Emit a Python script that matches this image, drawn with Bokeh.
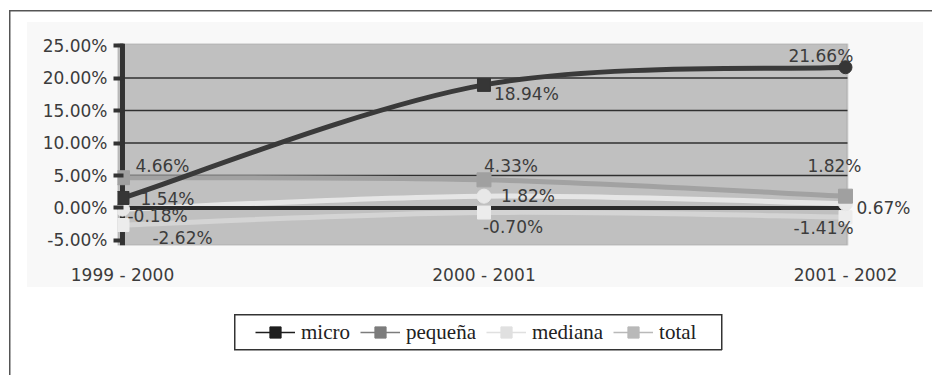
from bokeh.plotting import figure
from bokeh.layouts import column
from bokeh.models import (ColumnDataSource, FixedTicker, PrintfTickFormatter, Span,
                          BoxAnnotation, Legend, LegendItem, LabelSet)
from bokeh.core.properties import value
from bokeh.embed import file_html
from bokeh.resources import INLINE

# Growth rates by company size (percent)
periods = ["1999 - 2000", "2000 - 2001", "2001 - 2002"]
micro = [1.54, 18.94, 21.66]
pequena = [4.66, 4.33, 1.82]
mediana = [-0.18, 1.82, 0.67]
total = [-2.62, -0.70, -1.41]
series_names = ["micro", "pequeña", "mediana", "total"]
y_ticks = [-5, 0, 5, 10, 15, 20, 25]

x = list(range(len(periods)))
FONT = "DejaVu Sans"

# horizontal extent of the shaded plot area (data units)
XL, XR = -0.0138, 2.0055


def line_css(left, top, w, h, color):
    return f"linear-gradient({color},{color}) {left}px {top}px / {w}px {h}px no-repeat"


# page frame, chart area and legend box painted behind the (transparent) canvases
page_bg = ", ".join([
    line_css(9, 10, 923, 1.5, "#555555"),
    line_css(9, 10, 1.5, 365, "#555555"),
    line_css(234, 314, 488, 1.5, "#333333"),
    line_css(234, 349, 488, 1.5, "#333333"),
    line_css(234, 314, 1.5, 36, "#333333"),
    line_css(721, 314, 1.5, 36, "#333333"),
    line_css(27, 22, 896, 265, "#f8f8f8"),
]) + ", #ffffff"

p = figure(frame_width=808, frame_height=202,
           min_border_left=117, min_border_right=7,
           min_border_top=43, min_border_bottom=55,
           x_range=(XL, XL + 808 / 361.5), y_range=(-5.77, 25.31),
           output_backend="svg", toolbar_location=None,
           background_fill_alpha=0, border_fill_alpha=0,
           outline_line_color=None)

# shaded plot area
p.add_layout(BoxAnnotation(left=XL, right=XR, fill_color="#c0c0c0", fill_alpha=1,
                           line_color="#8c8c8c", line_width=2, level="image"))

# axes
p.xgrid.grid_line_color = None
p.ygrid.grid_line_color = None
p.xaxis.ticker = FixedTicker(ticks=x)
p.xaxis.major_label_overrides = {i: lbl for i, lbl in zip(x, periods)}
p.xaxis.axis_line_color = None
p.xaxis.major_tick_line_color = None
p.xaxis.major_tick_out = 0
p.xaxis.minor_tick_line_color = None
p.xaxis.major_label_standoff = 19
p.xaxis.major_label_text_font = FONT
p.xaxis.major_label_text_font_size = "17px"
p.xaxis.major_label_text_color = "#3c3c3c"

p.yaxis.ticker = FixedTicker(ticks=y_ticks)
p.yaxis.formatter = PrintfTickFormatter(format="%.2f%%")
p.yaxis.axis_line_color = None
p.yaxis.major_tick_out = 4
p.yaxis.major_tick_in = 6
p.yaxis.major_tick_line_width = 4
p.yaxis.major_tick_line_color = "#333333"
p.yaxis.minor_tick_line_color = None
p.yaxis.major_label_standoff = 6
p.yaxis.major_label_text_font = FONT
p.yaxis.major_label_text_font_size = "17px"
p.yaxis.major_label_text_color = "#3c3c3c"

# horizontal gridlines inside the shaded area
grid_vals = [t for t in y_ticks if -5 < t < 25 and t != 0]
p.segment(x0=[XL] * len(grid_vals), x1=[XR] * len(grid_vals),
          y0=grid_vals, y1=grid_vals, line_color="#303030", line_width=1.3)

# vertical axis line through the first category
p.add_layout(Span(location=0, dimension="height", line_color="#333333",
                  line_width=5, level="underlay"))

styles = {
    "total":   dict(line="#d4d4d4", mark="#ececec", marker=["square"] * 3, size=13),
    "mediana": dict(line="#e6e6e6", mark="#e8e8e8", marker=["circle"] * 3, size=14),
    "pequeña": dict(line="#a2a2a2", mark="#a0a0a0", marker=["square"] * 3, size=14),
    "micro":   dict(line="#3a3a3a", mark="#363636", marker=["square", "square", "circle"], size=13),
}
values = {"micro": micro, "pequeña": pequena, "mediana": mediana, "total": total}
draw_order = ["total", "mediana", "pequeña", "micro"]


def smooth_segments(xs, ys):
    """Cubic Bezier pieces through the points (Catmull-Rom tangents)."""
    n = len(xs)
    seg = dict(x0=[], y0=[], x1=[], y1=[], cx0=[], cy0=[], cx1=[], cy1=[])
    for i in range(n - 1):
        a = max(i - 1, 0)
        d = min(i + 2, n - 1)
        seg["x0"].append(xs[i]); seg["y0"].append(ys[i])
        seg["x1"].append(xs[i + 1]); seg["y1"].append(ys[i + 1])
        seg["cx0"].append(xs[i] + (xs[i + 1] - xs[a]) / 6)
        seg["cy0"].append(ys[i] + (ys[i + 1] - ys[a]) / 6)
        seg["cx1"].append(xs[i + 1] - (xs[d] - xs[i]) / 6)
        seg["cy1"].append(ys[i + 1] - (ys[d] - ys[i]) / 6)
    return seg


for name in draw_order:
    st = styles[name]
    src = ColumnDataSource(smooth_segments(x, values[name]))
    p.bezier("x0", "y0", "x1", "y1", "cx0", "cy0", "cx1", "cy1", source=src,
             line_color=st["line"], line_width=5, line_cap="round")

# category axis line at zero
p.segment(x0=[XL], x1=[XR], y0=[0], y1=[0], line_color="#2b2b2b", line_width=4)

for name in draw_order:
    st = styles[name]
    src = ColumnDataSource(dict(x=x, y=values[name], m=st["marker"]))
    p.scatter("x", "y", source=src, marker="m", size=st["size"],
              fill_color=st["mark"], line_color=st["mark"])

# data labels: pixel offsets (right, up) from each point
label_offsets = {
    "micro":   [(18, -1.5), (10, -8.6), (-57, 11.7)],
    "pequeña": [(13, 12), (0, 13.4), (-38, 30)],
    "mediana": [(5, -7), (17, 0), (11, -4)],
    "total":   [(30, -12.5), (-1, -14), (-52, -11.3)],
}
lx, ly, lt, ox, oy = [], [], [], [], []
for name in series_names:
    for i, v in enumerate(values[name]):
        lx.append(x[i])
        ly.append(v)
        lt.append(f"{v:.2f}%")
        ox.append(label_offsets[name][i][0])
        oy.append(label_offsets[name][i][1])
lab_src = ColumnDataSource(dict(x=lx, y=ly, t=lt, ox=ox, oy=oy))
p.add_layout(LabelSet(x="x", y="y", text="t", source=lab_src,
                      x_offset="ox", y_offset="oy",
                      text_font=value(FONT), text_font_size="17px",
                      text_color="#3c3c3c", text_align="left",
                      text_baseline="middle"))

# legend strip underneath the chart; its series renderers sit outside the
# strip's visible ranges and only supply the legend swatches
leg = figure(width=932, height=75, min_border=0, x_range=(50, 51), y_range=(50, 51),
             x_axis_type=None, y_axis_type=None, output_backend="svg",
             toolbar_location=None, background_fill_alpha=0, border_fill_alpha=0,
             outline_line_color=None)
leg.xgrid.visible = False
leg.ygrid.visible = False

legend_colors = {"micro": "#1e1e1e", "pequeña": "#7c7c7c",
                 "mediana": "#e0e0e0", "total": "#b9b9b9"}
items = []
for name in series_names:
    c = legend_colors[name]
    rl = leg.line(x, values[name], line_color=c, line_width=1.5)
    rm = leg.scatter(x, values[name], marker="square", size=12, fill_color=c, line_color=c)
    items.append(LegendItem(label=name, renderers=[rl, rm]))

legend = Legend(items=items, orientation="horizontal", location=(134, 25),
                glyph_width=40, glyph_height=28, padding=4, spacing=10,
                label_standoff=6, border_line_alpha=0, background_fill_alpha=0,
                label_text_font="Liberation Serif", label_text_font_size="21px",
                label_text_color="#222222", margin=0)
leg.add_layout(legend)

page = column(p, leg, spacing=0, styles={"background": page_bg})

open("out.html", "w").write(file_html(page, INLINE))
